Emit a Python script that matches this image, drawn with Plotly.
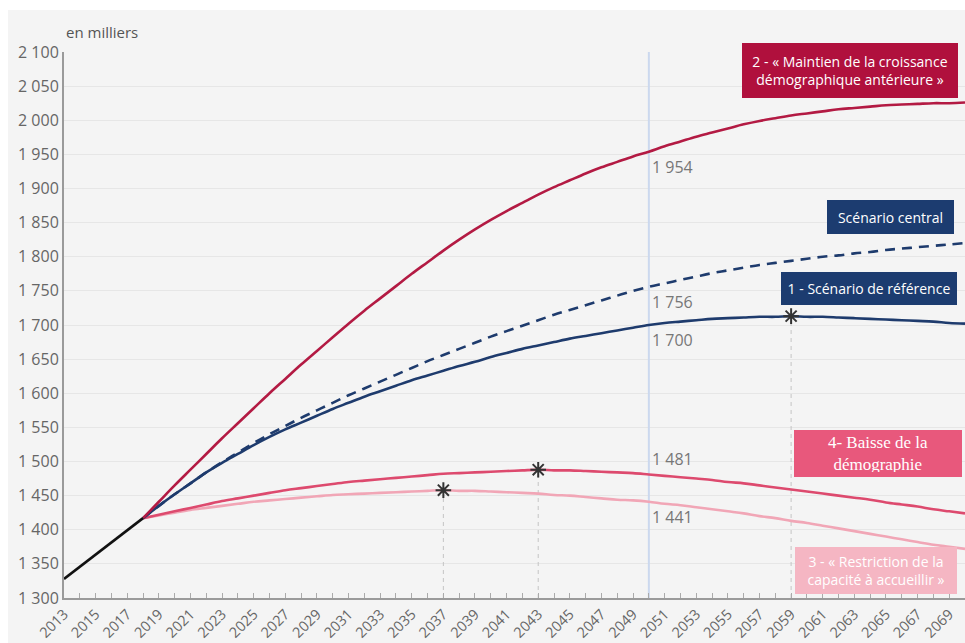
import plotly.graph_objects as go

# ---------------- data (thousands of inhabitants) ----------------
hist_years = [2013, 2018]
hist_values = [1328, 1417]

proj_years = list(range(2018, 2071))

maintien = [1417, 1441, 1465, 1488, 1511, 1534, 1556, 1578, 1600, 1621, 1642, 1662,
            1682, 1702, 1721, 1739, 1757, 1775, 1792, 1809, 1825, 1840,
            1854, 1867, 1879, 1891, 1902, 1912, 1922, 1931, 1939, 1947,
            1954, 1962, 1969, 1976, 1982, 1988, 1994, 1999, 2003, 2007,
            2010, 2013, 2016, 2018, 2020, 2022, 2023, 2024, 2025, 2025, 2026]

central = [1417, 1435, 1452, 1468, 1484, 1499, 1513, 1527, 1540, 1552, 1564, 1575,
           1586, 1597, 1607, 1617, 1627, 1637, 1647, 1656, 1665, 1674,
           1683, 1691, 1699, 1707, 1715, 1722, 1729, 1736, 1743, 1750,
           1756, 1761, 1766, 1771, 1776, 1780, 1784, 1788, 1791, 1794,
           1797, 1800, 1802, 1805, 1807, 1810, 1812, 1814, 1816, 1818, 1820]

reference = [1417, 1435, 1452, 1468, 1484, 1498, 1511, 1524, 1536, 1547, 1557, 1567,
             1577, 1586, 1595, 1603, 1611, 1619, 1626, 1633, 1640, 1646,
             1653, 1659, 1665, 1670, 1675, 1680, 1684, 1688, 1692, 1696,
             1700, 1703, 1705, 1707, 1709, 1710, 1711, 1712, 1712, 1713,
             1712, 1712, 1711, 1710, 1709, 1708, 1707, 1706, 1705, 1703, 1702]

baisse = [1417, 1422, 1427, 1432, 1437, 1442, 1446, 1450, 1454, 1458, 1461, 1464,
          1467, 1470, 1472, 1474, 1476, 1478, 1480, 1482, 1483, 1484,
          1485, 1486, 1487, 1488, 1487, 1487, 1486, 1485, 1484, 1483,
          1481, 1479, 1477, 1475, 1473, 1470, 1468, 1465, 1462, 1459,
          1456, 1453, 1450, 1447, 1444, 1440, 1437, 1434, 1430, 1427, 1424]

restriction = [1417, 1421, 1425, 1429, 1432, 1435, 1438, 1441, 1443, 1445, 1447, 1449,
               1451, 1452, 1453, 1454, 1455, 1456, 1457, 1458, 1457, 1457,
               1456, 1455, 1454, 1453, 1451, 1450, 1448, 1446, 1444, 1443,
               1441, 1438, 1436, 1433, 1430, 1427, 1424, 1420, 1417, 1413,
               1410, 1406, 1402, 1398, 1394, 1390, 1386, 1382, 1378, 1375, 1372]

ref_year = 2050

x_tick_vals = list(range(2013, 2070, 2))
x_tick_text = [str(v) for v in x_tick_vals]
y_tick_vals = list(range(1300, 2101, 50))
y_tick_text = ["1 300", "1 350", "1 400", "1 450", "1 500", "1 550", "1 600", "1 650",
               "1 700", "1 750", "1 800", "1 850", "1 900", "1 950", "2 000", "2 050", "2 100"]

box_labels = {
    "maintien": "2 - « Maintien de la croissance<br>démographique antérieure »",
    "central": "Scénario central",
    "reference": "1 - Scénario de référence",
    "baisse": "4- Baisse de la<br>démographie",
    "restriction": "3 - « Restriction de la<br>capacité à accueillir »",
}

# ---------------- styles ----------------
C_RED = "#b31a43"
C_RED_BOX = "#b0103d"
C_BLUE = "#1e3b6d"
C_BLUE_BOX = "#1c3c70"
C_PINK = "#dd4a6e"
C_PINK_BOX = "#e8587c"
C_LPINK = "#f1a6b6"
C_LPINK_BOX = "#f5b6c3"
BG = "#f4f4f4"
FONT = "Open Sans"

fig = go.Figure()

series = [
    ("maintien", maintien, C_RED, "solid"),
    ("central", central, C_BLUE, "10px,7px"),
    ("reference", reference, C_BLUE, "solid"),
    ("baisse", baisse, C_PINK, "solid"),
    ("restriction", restriction, C_LPINK, "solid"),
]

peak_series = [reference, baisse, restriction]
for vals in peak_series:
    i = max(range(len(vals)), key=lambda k: vals[k])
    fig.add_trace(go.Scatter(x=[proj_years[i], proj_years[i]], y=[y_tick_vals[0], vals[i]],
                             mode="lines", line=dict(color="#c4c4c4", width=1, dash="4px,4px"),
                             hoverinfo="skip", showlegend=False))

fig.add_trace(go.Scatter(x=[ref_year, ref_year], y=[y_tick_vals[0], y_tick_vals[-1]],
                         mode="lines", line=dict(color="#cbd8ee", width=2),
                         hoverinfo="skip", showlegend=False))

for name, vals, col, dash in series[::-1]:
    fig.add_trace(go.Scatter(x=proj_years, y=vals, mode="lines", name=name,
                             line=dict(color=col, width=2.6, dash=dash, shape="spline", smoothing=1.0),
                             showlegend=False))

fig.add_trace(go.Scatter(x=hist_years, y=hist_values, mode="lines",
                         line=dict(color="#111111", width=2.6), showlegend=False))

for vals in peak_series:
    i = max(range(len(vals)), key=lambda k: vals[k])
    fig.add_trace(go.Scatter(x=[proj_years[i]], y=[vals[i]], mode="markers",
                             marker=dict(symbol="asterisk-open", size=13, color="#333333",
                                         line=dict(width=2, color="#333333")),
                             showlegend=False))

idx = proj_years.index(ref_year)
label_pos = [(maintien, "top"), (central, "top"), (reference, "top"), (baisse, "bottom"), (restriction, "top")]
for vals, anchor in label_pos:
    v = vals[idx]
    fig.add_annotation(x=ref_year, y=v, text=f"{v // 1000} {v % 1000:03d}", showarrow=False,
                       xanchor="left", yanchor=anchor, xshift=1, yshift=-2 if anchor == "top" else 2,
                       font=dict(family=FONT, size=16, color="#777777"))

# boxed scenario labels: key, x, y, colour, font family, font size, inner width, inner height
boxes = [
    ("maintien", 2062.75, 2073, C_RED_BOX, FONT, 14, 206, 45),
    ("central", 2065.3, 1858, C_BLUE_BOX, FONT, 14, 117, 24),
    ("reference", 2063.9, 1753, C_BLUE_BOX, FONT, 14, 166, 23),
    ("baisse", 2064.5, 1512, C_PINK_BOX, "Liberation Serif", 17, 158, 37),
    ("restriction", 2064.4, 1340, C_LPINK_BOX, FONT, 14, 152, 37),
]
for key, bx, by, col, fam, fs, w, h in boxes:
    fig.add_annotation(x=bx, y=by, text=box_labels[key], showarrow=False,
                       xanchor="center", yanchor="middle", align="center",
                       width=w, height=h, valign="middle",
                       bgcolor=col, bordercolor=col, borderwidth=1, borderpad=4,
                       font=dict(family=fam, size=fs, color="white"))

fig.add_annotation(x=0.0, y=1.037, xref="paper", yref="paper", text="en milliers",
                   showarrow=False, xanchor="left", yanchor="middle",
                   font=dict(family=FONT, size=15, color="#555555"))

fig.add_shape(type="rect", xref="paper", yref="paper", x0=-0.0622, x1=1.01, y0=-0.09, y1=1.077,
              fillcolor=BG, line=dict(width=0), layer="below")

fig.update_layout(
    width=965, height=643,
    margin=dict(l=64, r=0, t=52, b=45, autoexpand=False),
    paper_bgcolor="white", plot_bgcolor=BG,
    font=dict(family=FONT, color="#666666"),
    hovermode=False,
    xaxis=dict(range=[2013, 2070], tickvals=x_tick_vals, ticktext=x_tick_text,
               tickangle=-45, tickfont=dict(size=14.5, color="#666666"), automargin=False,
               showgrid=False, zeroline=False, showline=True, linecolor="#9a9a9a", linewidth=2,
               ticks="inside", ticklen=5, tickcolor="#aaaaaa",
               minor=dict(dtick=1, tick0=2013, ticks="inside", ticklen=5, tickcolor="#aaaaaa")),
    yaxis=dict(range=[1300, 2100], tickvals=y_tick_vals, ticktext=y_tick_text,
               tickfont=dict(size=16, color="#666666"), automargin=False,
               showgrid=True, gridcolor="#e6e6e6", gridwidth=1, zeroline=False,
               showline=True, linecolor="#9a9a9a", linewidth=2, ticks=""),
)

fig.write_html("out.html")
